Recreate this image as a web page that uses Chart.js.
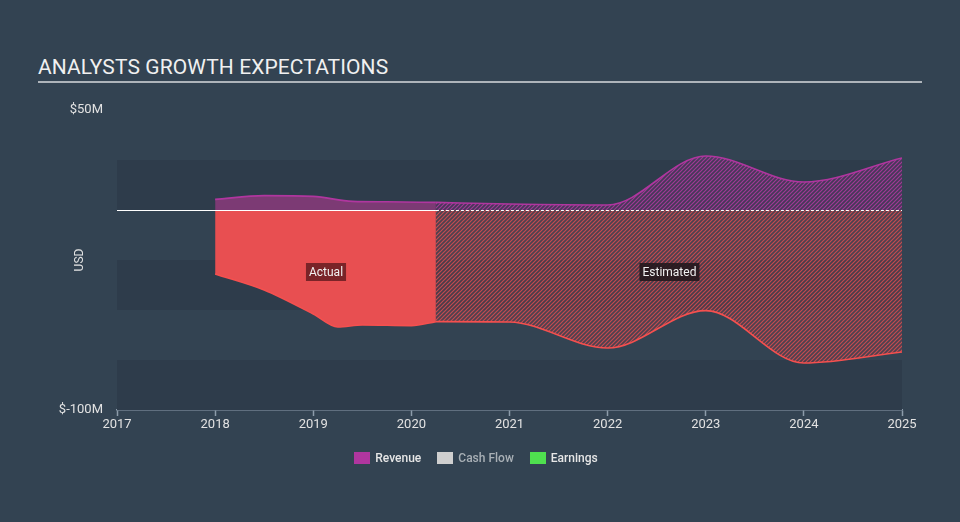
<!DOCTYPE html>
<html>
<head>
<meta charset="utf-8">
<script src="https://cdn.jsdelivr.net/npm/chart.js@4"></script>
<style>
  html, body { margin:0; padding:0; background:#334352; width:960px; height:522px; overflow:hidden; }
  #title { position:absolute; left:38px; top:55px; font-family:Roboto, sans-serif; font-size:21px; color:#f0f0f0; letter-spacing:0.1px; }
  #rule { position:absolute; left:38px; top:81px; width:884px; height:2px; background:#aeb4ba; }
  #wrap { position:absolute; left:0; top:0; width:960px; height:522px; }
  #legend { position:absolute; top:450px; left:-4px; width:960px; text-align:center; font-family:Roboto, sans-serif; font-size:12px; font-weight:500; }
  .item { display:inline-block; margin:0 8px; line-height:16px; }
  .box { display:inline-block; width:16px; height:12px; vertical-align:-2px; margin-right:5px; }
</style>
</head>
<body>
<div id="title">ANALYSTS GROWTH EXPECTATIONS</div>
<div id="rule"></div>
<div id="wrap"><canvas id="c" width="960" height="522"></canvas></div>
<div id="legend"></div>
<script>
// ---- data (values in $M, x in years) ----
const revenueActual    = [[2018,5.3],[2018.5,7.2],[2019,6.8],[2019.4,4.3],[2019.75,4.1],[2020.25,3.8]];
const revenueEstimated = [[2020.25,3.8],[2021,3.0],[2022,2.5],[2023,27],[2024,14],[2025,26]];
const earningsActual    = [[2018,-32],[2018.5,-40],[2019,-52],[2019.25,-58.5],[2019.5,-57.5],[2020,-57.8],[2020.25,-55.8]];
const earningsEstimated = [[2020.25,-55.8],[2021,-56],[2022,-69],[2023,-50.3],[2024,-76.5],[2025,-71]];
const yearTicks = [2017,2018,2019,2020,2021,2022,2023,2024,2025];
const yTickLabels = {50:'$50M', '-100':'$-100M'};
const legendNames = ['Revenue','Cash Flow','Earnings'];
const legendColors = ['#b0369f','#cfcfcf','#4fe04f'];
const legendTextColors = ['#e6e6e6','#a9b0b6','#e6e6e6'];
const splitYear = 2020.25;

function pts(a){ return a.map(p => ({x:p[0], y:p[1]})); }

function hatch(line, base){
  const s = 4;
  const c = document.createElement('canvas'); c.width = s; c.height = s;
  const g = c.getContext('2d');
  g.fillStyle = base; g.fillRect(0,0,s,s);
  g.strokeStyle = line; g.lineWidth = 1.2;
  g.beginPath();
  g.moveTo(0,s); g.lineTo(s,0);
  g.moveTo(-1,1); g.lineTo(1,-1);
  g.moveTo(s-1,s+1); g.lineTo(s+1,s-1);
  g.stroke();
  return document.getElementById('c').getContext('2d').createPattern(c,'repeat');
}

const earnHatch = hatch('rgba(236,80,82,0.75)','rgba(150,60,70,0.25)');
const revHatch  = hatch('rgba(185,58,165,0.8)','rgba(120,50,120,0.3)');

// legend
document.getElementById('legend').innerHTML = legendNames.map((n,i)=>
  `<span class="item" style="color:${legendTextColors[i]}"><span class="box" style="background:${legendColors[i]}"></span>${n}</span>`).join('');

const bgPlugin = {
  id:'bands',
  beforeDatasetsDraw(chart){
    const {ctx, chartArea:a, scales:{y}} = chart;
    ctx.save();
    ctx.fillStyle = '#2e3c4b';
    [[25,0],[-25,-50],[-75,-100]].forEach(([t,b])=>{
      const y1 = y.getPixelForValue(t), y2 = y.getPixelForValue(b);
      ctx.fillRect(a.left, y1, a.right-a.left, y2-y1);
    });
    ctx.restore();
  },
  afterDatasetsDraw(chart){
    const {ctx, chartArea:a, scales:{x,y}} = chart;
    const y0 = Math.round(y.getPixelForValue(0)) + 0.5;
    const xs = x.getPixelForValue(splitYear);
    ctx.save();
    ctx.strokeStyle = '#ffffff'; ctx.lineWidth = 1;
    ctx.beginPath(); ctx.moveTo(a.left,y0); ctx.lineTo(xs,y0); ctx.stroke();
    ctx.setLineDash([3,2]);
    ctx.beginPath(); ctx.moveTo(xs,y0); ctx.lineTo(a.right,y0); ctx.stroke();
    ctx.setLineDash([]);
    // labels
    ctx.font = '12px Roboto, sans-serif';
    ctx.textAlign = 'center'; ctx.textBaseline = 'middle';
    const lab = (txt, xv, yv, bg) => {
      const px = x.getPixelForValue(xv), py = y.getPixelForValue(yv);
      const w = ctx.measureText(txt).width + 6;
      ctx.fillStyle = bg;
      ctx.fillRect(px - w/2, py - 9, w, 18);
      ctx.fillStyle = '#f2f2f2';
      ctx.fillText(txt, px, py + 0.5);
    };
    lab('Actual', 2019.13, -31, '#7a2428');
    lab('Estimated', 2022.63, -31, 'rgba(35,24,30,0.9)');
    ctx.restore();
  }
};

const common = { tension:0, cubicInterpolationMode:'monotone', pointRadius:0, borderWidth:1.6, fill:'origin' };

new Chart(document.getElementById('c'), {
  type:'line',
  data:{
    datasets:[
      Object.assign({label:'Revenue actual', data:pts(revenueActual), borderColor:'#b0369f', backgroundColor:'#7c3a74'}, common),
      Object.assign({label:'Revenue estimated', data:pts(revenueEstimated), borderColor:'#b0369f', backgroundColor:revHatch}, common),
      Object.assign({label:'Earnings actual', data:pts(earningsActual), borderColor:'#f5504f', backgroundColor:'#e84f51'}, common),
      Object.assign({label:'Earnings estimated', data:pts(earningsEstimated), borderColor:'#f5504f', backgroundColor:earnHatch}, common)
    ]
  },
  options:{
    responsive:false, animation:false,
    layout:{ padding:{ left:0, right:58, top:110, bottom:82 } },
    plugins:{ legend:{display:false}, tooltip:{enabled:false} },
    scales:{
      x:{
        type:'linear', min:2017, max:2025,
        afterBuildTicks(s){ s.ticks = yearTicks.map(v=>({value:v})); },
        afterFit(s){ s.height = 30; },
        border:{ color:'#8d9cab', width:1.5 },
        grid:{ drawOnChartArea:false, color:'#8d9cab', tickLength:6, tickWidth:1.5 },
        ticks:{ color:'#e2e2e2', font:{family:'Roboto', size:13}, padding:1, maxRotation:0, callback:v=>String(v) }
      },
      y:{
        min:-100, max:50,
        afterBuildTicks(s){ s.ticks = [50,25,0,-25,-50,-75,-100].map(v=>({value:v})); },
        afterFit(s){ s.width = 117; },
        border:{ display:false },
        grid:{ display:false },
        ticks:{ color:'#e2e2e2', font:{family:'Roboto', size:13}, padding:6, callback:v=>yTickLabels[v] || '' },
        title:{ display:true, text:'USD', color:'#e2e2e2', font:{family:'Roboto', size:12}, padding:{top:73,bottom:0} }
      }
    }
  },
  plugins:[bgPlugin]
});
</script>
</body>
</html>
